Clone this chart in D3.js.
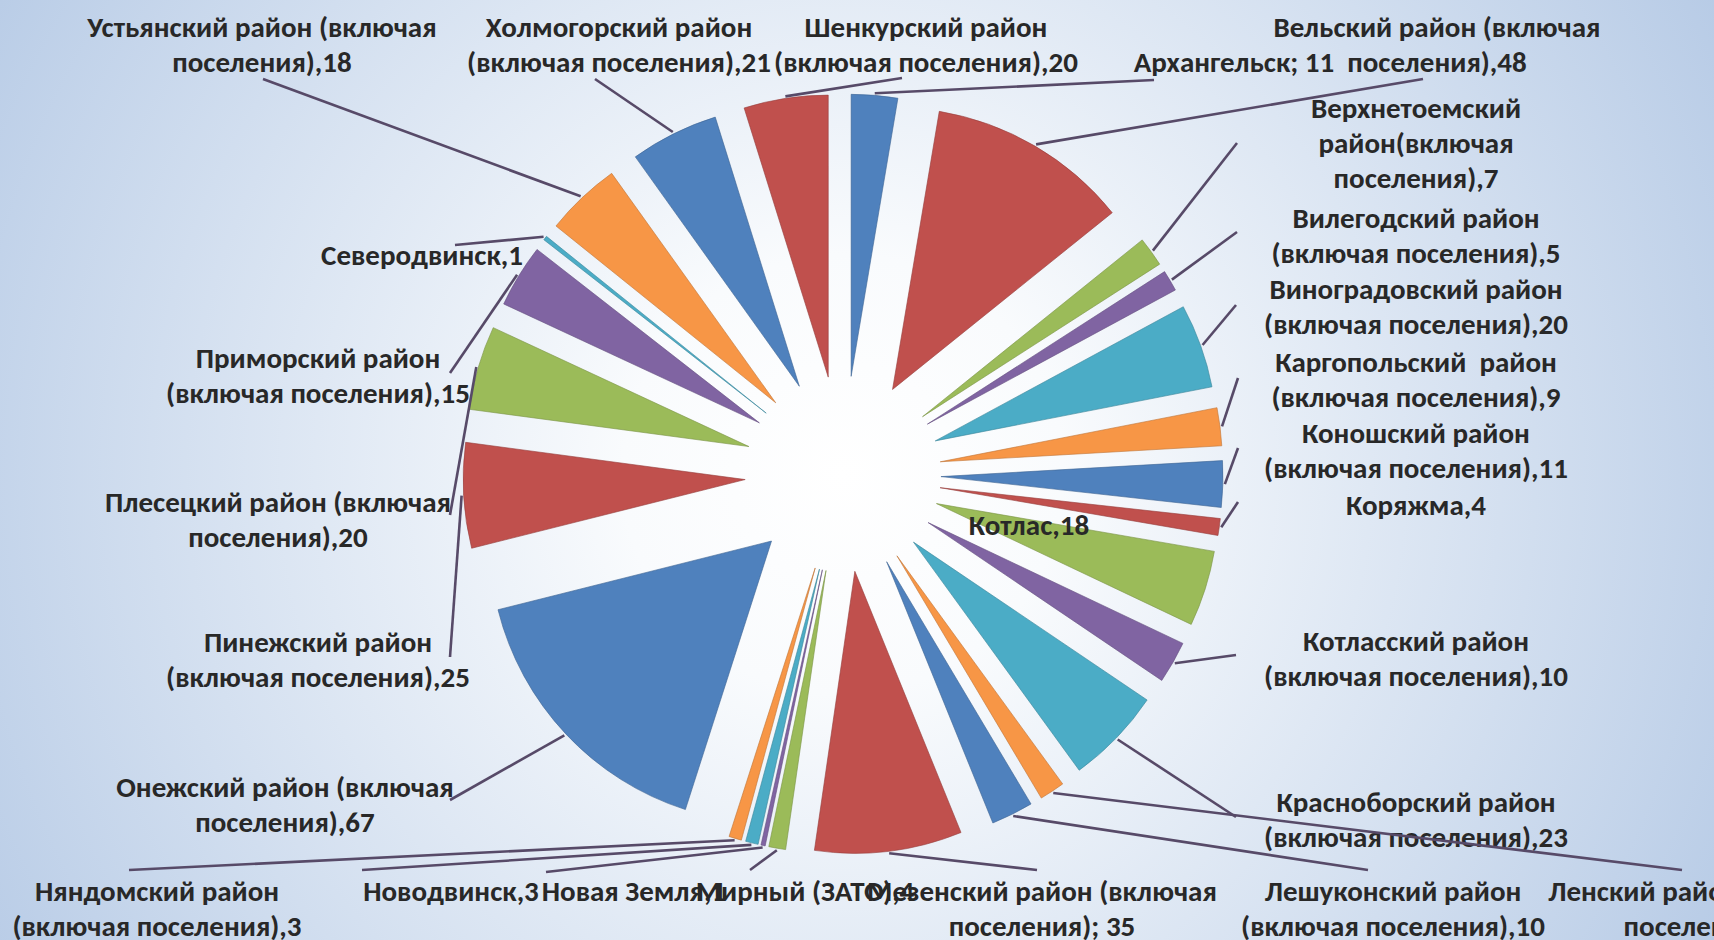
<!DOCTYPE html>
<html>
<head>
<meta charset="utf-8">
<script src="https://d3js.org/d3.v7.min.js"></script>
<style>
  body { margin: 0; background: #fff; }
  .chart text {
    font-family: Calibri, Carlito, Lato, "Open Sans", sans-serif;
    font-weight: 600;
    font-size: 29px;
    fill: #282828;
  }
  .chart .leader { stroke: #574a68; stroke-width: 2.6; fill: none; }
</style>
</head>
<body>
<svg class="chart"></svg>

<script>
var width = 1714;
var height = 940;

// districts in chart order (alphabetical, clockwise from 12 o'clock)
var categories = [
  "Архангельск", "Вельский", "Верхнетоемский", "Вилегодский", "Виноградовский",
  "Каргопольский", "Коношский", "Коряжма", "Котлас", "Котласский",
  "Красноборский", "Ленский", "Лешуконский", "Мезенский", "Мирный",
  "Новая Земля", "Новодвинск", "Няндомский", "Онежский", "Пинежский",
  "Плесецкий", "Приморский", "Северодвинск", "Устьянский", "Холмогорский",
  "Шенкурский"
];

var values = [11, 48, 7, 5, 20, 9, 11, 4, 18, 10, 23, 6, 10, 35, 4, 1, 3, 3, 67, 25, 20, 15, 1, 18, 21, 20];

// label text, the value is added at the end of the last line
var labelLines = [
  ["Архангельск; "],
  ["Вельский район (включая", "поселения),"],
  ["Верхнетоемский", "район(включая", "поселения),"],
  ["Вилегодский район", "(включая поселения),"],
  ["Виноградовский район", "(включая поселения),"],
  ["Каргопольский  район", "(включая поселения),"],
  ["Коношский район", "(включая поселения),"],
  ["Коряжма,"],
  ["Котлас,"],
  ["Котласский район", "(включая поселения),"],
  ["Красноборский район", "(включая поселения),"],
  ["Ленский район (включая", "поселения),"],
  ["Лешуконский район", "(включая поселения),"],
  ["Мезенский район (включая", "поселения); "],
  ["Мирный (ЗАТО),"],
  ["Новая Земля,"],
  ["Новодвинск,"],
  ["Няндомский район", "(включая поселения),"],
  ["Онежский район (включая", "поселения),"],
  ["Пинежский район", "(включая поселения),"],
  ["Плесецкий район (включая", "поселения),"],
  ["Приморский район", "(включая поселения),"],
  ["Северодвинск,"],
  ["Устьянский район (включая", "поселения),"],
  ["Холмогорский район", "(включая поселения),"],
  ["Шенкурский район", "(включая поселения),"]
];

// where each label sits: centre x, first line y, leader start
var labelLayout = [
  {cx: 1234, y: 62,  ax: 1154, ay: 80},
  {cx: 1437, y: 27,  ax: 1423, ay: 79},
  {cx: 1416, y: 108, ax: 1237, ay: 143},
  {cx: 1416, y: 218, ax: 1237, ay: 232},
  {cx: 1416, y: 289, ax: 1236, ay: 305},
  {cx: 1416, y: 362, ax: 1238, ay: 378},
  {cx: 1416, y: 433, ax: 1238, ay: 448},
  {cx: 1416, y: 505, ax: 1238, ay: 502},
  {cx: 1029, y: 525, ax: null, ay: null},
  {cx: 1416, y: 641, ax: 1236, ay: 655},
  {cx: 1416, y: 802, ax: 1236, ay: 817},
  {cx: 1706, y: 891, ax: 1682, ay: 870},
  {cx: 1393, y: 891, ax: 1368, ay: 870},
  {cx: 1042, y: 891, ax: 1037, ay: 870},
  {cx: 805,  y: 891, ax: 750,  ay: 870},
  {cx: 634,  y: 891, ax: 546,  ay: 872},
  {cx: 451,  y: 891, ax: 362,  ay: 870},
  {cx: 157,  y: 891, ax: 129,  ay: 870},
  {cx: 285,  y: 787, ax: 450,  ay: 800},
  {cx: 318,  y: 642, ax: 450,  ay: 657},
  {cx: 278,  y: 502, ax: 450,  ay: 515},
  {cx: 318,  y: 358, ax: 450,  ay: 373},
  {cx: 422,  y: 255, ax: 455,  ay: 245},
  {cx: 262,  y: 27,  ax: 263,  ay: 79},
  {cx: 619,  y: 27,  ax: 595,  ay: 79},
  {cx: 926,  y: 27,  ax: 902,  ay: 78}
];

var palette = ["#4f81bd", "#c0504d", "#9bbb59", "#8064a2", "#4bacc6", "#f79646"];

var cx = 843, cy = 474;
var radius = 282;
var explode = 98;
var lineGap = 35;

var svg = d3.select(".chart")
    .attr("width", width)
    .attr("height", height);

// background glow
var grad = svg.append("defs").append("radialGradient")
    .attr("id", "bg")
    .attr("gradientUnits", "userSpaceOnUse")
    .attr("cx", cx).attr("cy", cy).attr("r", 1000);
grad.append("stop").attr("offset", 0).attr("stop-color", "#ffffff");
grad.append("stop").attr("offset", 0.22).attr("stop-color", "#f9fbfd");
grad.append("stop").attr("offset", 1).attr("stop-color", "#b7cbe6");

svg.append("rect")
    .attr("width", width)
    .attr("height", height)
    .attr("fill", "url(#bg)");

var color = d3.scaleOrdinal()
    .domain(d3.range(categories.length))
    .range(palette);

var pie = d3.pie()
    .sort(null)
    .value(function(d) { return d; });

var arcs = pie(values);

var arc = d3.arc()
    .innerRadius(0)
    .outerRadius(radius);

function mid(d) { return (d.startAngle + d.endAngle) / 2; }

// offset of each exploded slice
function shift(d) {
  var a = mid(d);
  return [explode * Math.sin(a), -explode * Math.cos(a)];
}

var g = svg.append("g")
    .attr("transform", "translate(" + cx + "," + cy + ")");

g.selectAll("path.slice")
    .data(arcs)
    .enter().append("path")
    .attr("class", "slice")
    .attr("d", arc)
    .attr("transform", function(d) {
      var s = shift(d);
      return "translate(" + s[0] + "," + s[1] + ")";
    })
    .attr("fill", function(d, i) { return color(i); })
    .attr("stroke", function(d, i) { return d3.color(color(i)).darker(0.7); })
    .attr("stroke-opacity", 0.6)
    .attr("stroke-width", 1);

// labels
var labels = svg.selectAll("text.lbl")
    .data(arcs)
    .enter().append("text")
    .attr("class", "lbl")
    .attr("text-anchor", "middle")
    .attr("dominant-baseline", "central");

labels.each(function(d, i) {
  var lay = labelLayout[i];
  var lines = labelLines[i].slice();
  lines[lines.length - 1] = lines[lines.length - 1] + values[i];
  d3.select(this).selectAll("tspan")
      .data(lines)
      .enter().append("tspan")
      .attr("x", lay.cx)
      .attr("y", function(t, k) { return lay.y + k * lineGap; })
      .attr("xml:space", "preserve")
      .text(function(t) { return t; });
});

// leader lines from label to the outer edge of its slice
svg.selectAll("line.leader")
    .data(arcs.filter(function(d) { return labelLayout[d.index].ax != null; }))
    .enter().append("line")
    .attr("class", "leader")
    .attr("x1", function(d) { return labelLayout[d.index].ax; })
    .attr("y1", function(d) { return labelLayout[d.index].ay; })
    .attr("x2", function(d) {
      return cx + shift(d)[0] + (radius + 2) * Math.sin(mid(d));
    })
    .attr("y2", function(d) {
      return cy + shift(d)[1] - (radius + 2) * Math.cos(mid(d));
    });
</script>
</body>
</html>
